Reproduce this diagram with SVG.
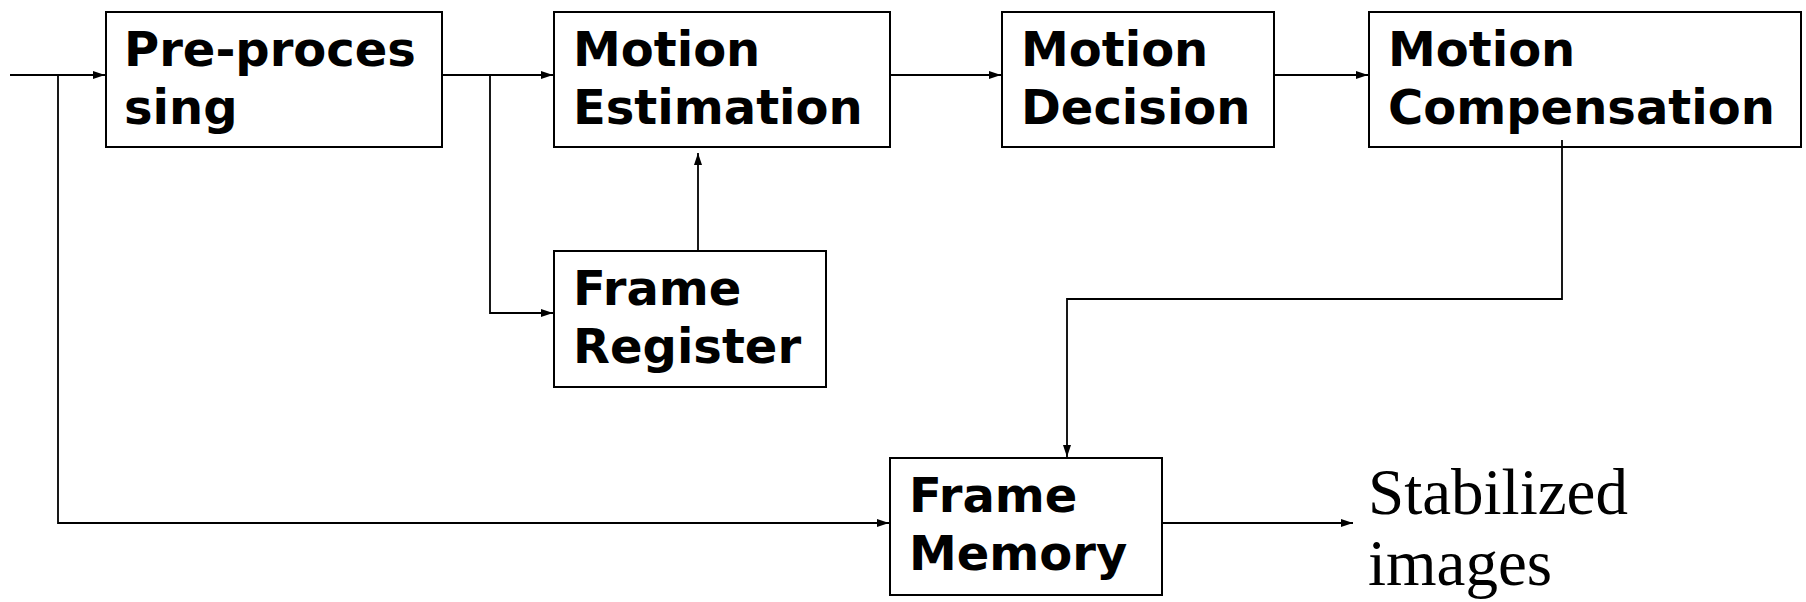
<svg xmlns="http://www.w3.org/2000/svg" width="1806" height="602" viewBox="0 0 1806 602">
<style>
.box{fill:#fff;stroke:#000;stroke-width:2}
.lbl{font-family:"DejaVu Sans",Verdana,sans-serif;font-weight:bold;font-size:48px;fill:#000}
.out{font-family:"Liberation Serif","Times New Roman",serif;font-size:65px;fill:#000}
.con{fill:none;stroke:#000;stroke-width:1.8}
</style>
<defs>
<marker id="arr" markerUnits="userSpaceOnUse" markerWidth="14" markerHeight="10" refX="12" refY="4" orient="auto">
<path d="M0,0 L12,4 L0,8 Z" fill="#000"/>
</marker>
</defs>
<rect width="1806" height="602" fill="#fff"/>
<g id="preprocessing">
<rect class="box" x="106" y="12" width="336" height="135"/>
<text class="lbl" x="124" y="66">Pre-proces</text>
<text class="lbl" x="124" y="124">sing</text>
</g>
<g id="motion-estimation">
<rect class="box" x="554" y="12" width="336" height="135"/>
<text class="lbl" x="573" y="66">Motion</text>
<text class="lbl" x="573" y="124">Estimation</text>
</g>
<g id="motion-decision">
<rect class="box" x="1002" y="12" width="272" height="135"/>
<text class="lbl" x="1021" y="66">Motion</text>
<text class="lbl" x="1021" y="124">Decision</text>
</g>
<g id="motion-compensation">
<rect class="box" x="1369" y="12" width="432" height="135"/>
<text class="lbl" x="1388" y="66">Motion</text>
<text class="lbl" x="1388" y="124">Compensation</text>
</g>
<g id="frame-register">
<rect class="box" x="554" y="251" width="272" height="136"/>
<text class="lbl" x="573" y="305">Frame</text>
<text class="lbl" x="573" y="363">Register</text>
</g>
<g id="frame-memory">
<rect class="box" x="890" y="458" width="272" height="137"/>
<text class="lbl" x="909" y="512">Frame</text>
<text class="lbl" x="909" y="570">Memory</text>
</g>
<g id="output">
<text class="out" x="1368" y="514">Stabilized</text>
<text class="out" x="1368" y="585">images</text>
</g>
<g id="connectors">
<path class="con" d="M10,75 H105" marker-end="url(#arr)"/>
<path class="con" d="M58,75 V523 H889" marker-end="url(#arr)"/>
<path class="con" d="M442,75 H553" marker-end="url(#arr)"/>
<path class="con" d="M490,75 V313 H553" marker-end="url(#arr)"/>
<path class="con" d="M698,251 V153" marker-end="url(#arr)"/>
<path class="con" d="M890,75 H1001" marker-end="url(#arr)"/>
<path class="con" d="M1274,75 H1368" marker-end="url(#arr)"/>
<path class="con" d="M1562,140 V299 H1067 V457" marker-end="url(#arr)"/>
<path class="con" d="M1162,523 H1353" marker-end="url(#arr)"/>
</g>
</svg>
